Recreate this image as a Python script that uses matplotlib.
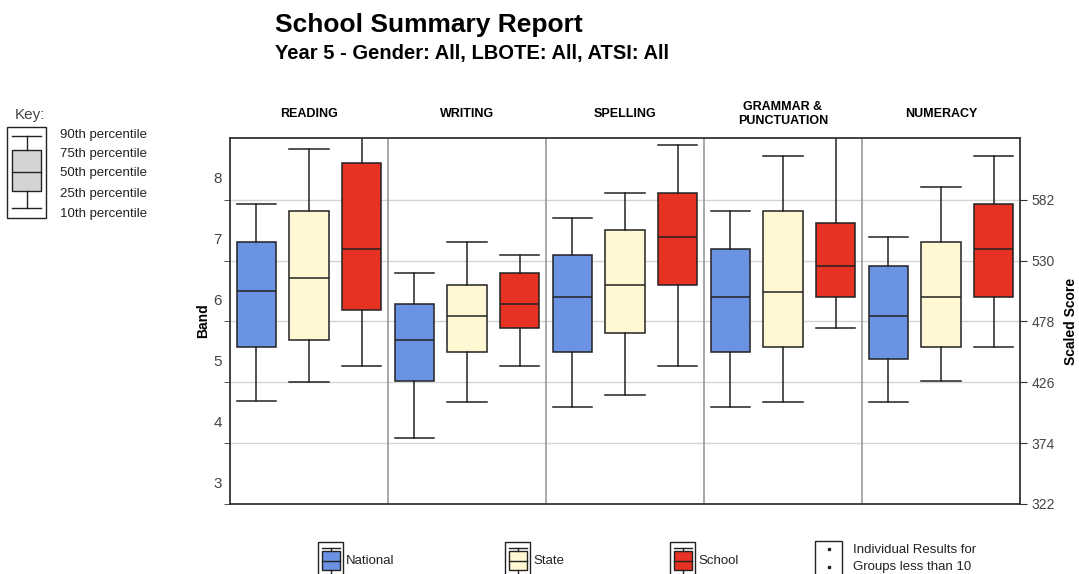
import matplotlib.pyplot as plt
from matplotlib.patches import Rectangle
from matplotlib.lines import Line2D

plt.rcParams['font.family'] = ['Liberation Sans', 'DejaVu Sans']

domains = ["READING", "WRITING", "SPELLING", "GRAMMAR &\nPUNCTUATION", "NUMERACY"]
groups = ["National", "State", "School"]
colors = ["#6b93e3", "#fff8d3", "#e63222"]

# scaled score percentiles per domain: [national, state, school]
p10 = [[410, 426, 440], [378, 409, 440], [405, 415, 440], [405, 409, 472], [409, 427, 456]]
p25 = [[456, 462, 488], [427, 452, 472], [452, 468, 509], [452, 456, 499], [446, 456, 499]]
p50 = [[504, 515, 540], [462, 483, 493], [499, 509, 550], [499, 503, 525], [483, 499, 540]]
p75 = [[546, 572, 613], [493, 509, 519], [535, 556, 588], [540, 572, 562], [525, 546, 578]]
p90 = [[578, 625, 650], [519, 546, 535], [566, 588, 629], [572, 619, 650], [550, 593, 619]]

score_ticks = [322, 374, 426, 478, 530, 582]
bands = [3, 4, 5, 6, 7, 8]
band_pos = [340 + (b - 3) * 52.2 for b in bands]

fig = plt.figure(figsize=(10.79, 5.74), dpi=100)
W, H = 1079, 574
ax = fig.add_axes([230 / W, (H - 504) / H, 790 / W, (504 - 138) / H])

for i in range(len(domains)):
    stats = []
    for g in range(3):
        stats.append(dict(med=p50[i][g], q1=p25[i][g], q3=p75[i][g],
                          whislo=p10[i][g], whishi=p90[i][g], fliers=[]))
    pos = [3 * i + 0.5, 3 * i + 1.5, 3 * i + 2.5]
    bp = ax.bxp(stats, positions=pos, widths=0.75, capwidths=0.75, patch_artist=True,
                showfliers=False,
                boxprops=dict(edgecolor="#222222", linewidth=1.1),
                medianprops=dict(color="#222222", linewidth=1.1),
                whiskerprops=dict(color="#222222", linewidth=1.1),
                capprops=dict(color="#222222", linewidth=1.1))
    for patch, c in zip(bp["boxes"], colors):
        patch.set_facecolor(c)
    ax.text(3 * i + 1.5, 1 + 24 / 366, domains[i], transform=ax.get_xaxis_transform(),
            ha="center", va="center", fontsize=9, fontweight="bold", linespacing=1.15)

ax.set_xlim(0, 15)
ax.set_ylim(322, 634.7)
ax.set_xticks([])
for s in score_ticks[1:]:
    ax.axhline(s, color="#d4d4d4", lw=1, zorder=0)
for x in [3, 6, 9, 12]:
    ax.axvline(x, color="#9a9a9a", lw=1.2, zorder=0)
for sp in ax.spines.values():
    sp.set_color("#333333")
    sp.set_linewidth(1.3)

ax.set_yticks(band_pos)
ax.set_yticklabels([str(b) for b in bands], fontsize=11, color="#444444")
ax.tick_params(axis="y", which="major", length=0, pad=6)
ax.set_yticks(score_ticks, minor=True)
ax.tick_params(axis="y", which="minor", length=4, color="#333333")
ax.set_ylabel("Band", fontsize=10, fontweight="bold", labelpad=2)

ax2 = ax.twinx()
ax2.set_ylim(ax.get_ylim())
ax2.set_yticks(score_ticks)
ax2.set_yticklabels([str(s) for s in score_ticks], fontsize=10, color="#444444")
ax2.tick_params(axis="y", length=5, color="#333333")
ax2.set_ylabel("Scaled Score", fontsize=10, fontweight="bold", labelpad=6)
for sp in ax2.spines.values():
    sp.set_visible(False)

fig.text(275 / W, 1 - 25 / H, "School Summary Report", fontsize=19, fontweight="bold",
         ha="left", va="center")
fig.text(275 / W, 1 - 53 / H, "Year 5 - Gender: All, LBOTE: All, ATSI: All", fontsize=14.5,
         fontweight="bold", ha="left", va="center")

# overlay for key and legend (pixel coords)
ov = fig.add_axes([0, 0, 1, 1], zorder=-1)
ov.set_xlim(0, W)
ov.set_ylim(H, 0)
ov.axis("off")


def icon(x0, y0, x1, y1, cap_top, box_top, med, box_bot, cap_bot, fc):
    ov.add_patch(Rectangle((x0, y0), x1 - x0, y1 - y0, fill=False, ec="#222222", lw=1))
    cx = (x0 + x1) / 2
    m = (x1 - x0) * 0.14
    ov.add_patch(Rectangle((x0 + m, box_top), x1 - x0 - 2 * m, box_bot - box_top,
                           fc=fc, ec="#222222", lw=1))
    for yy in [cap_top, cap_bot]:
        ov.add_line(Line2D([x0 + m, x1 - m], [yy, yy], color="#222222", lw=1))
    ov.add_line(Line2D([x0 + m, x1 - m], [med, med], color="#222222", lw=1))
    ov.add_line(Line2D([cx, cx], [cap_top, box_top], color="#222222", lw=1))
    ov.add_line(Line2D([cx, cx], [box_bot, cap_bot], color="#222222", lw=1))


ov.text(15, 115, "Key:", fontsize=11, color="#444444", va="center")
icon(7, 127, 46, 218, 136, 150, 172, 191, 208, "#d4d4d4")
key_labels = ["90th percentile", "75th percentile", "50th percentile", "25th percentile",
              "10th percentile"]
for lab, yy in zip(key_labels, [135, 154, 173, 194, 214]):
    ov.text(60, yy, lab, fontsize=9.5, color="#222222", va="center")

for x, g, c in zip([318, 505, 670], groups, colors):
    icon(x, 542, x + 25, 580, 548, 551, 561, 570, 576, c)
    ov.text(x + 28, 561, g, fontsize=9.5, va="center", color="#222222")

ov.add_patch(Rectangle((815, 541), 27, 40, fill=False, ec="#222222", lw=1))
ov.plot([829, 829], [549, 567], ls="none", marker="s", ms=2, color="#222222")
ov.text(853, 550, "Individual Results for", fontsize=9.5, va="center", color="#222222")
ov.text(853, 567, "Groups less than 10", fontsize=9.5, va="center", color="#222222")

fig.savefig("out.png", dpi=100)
